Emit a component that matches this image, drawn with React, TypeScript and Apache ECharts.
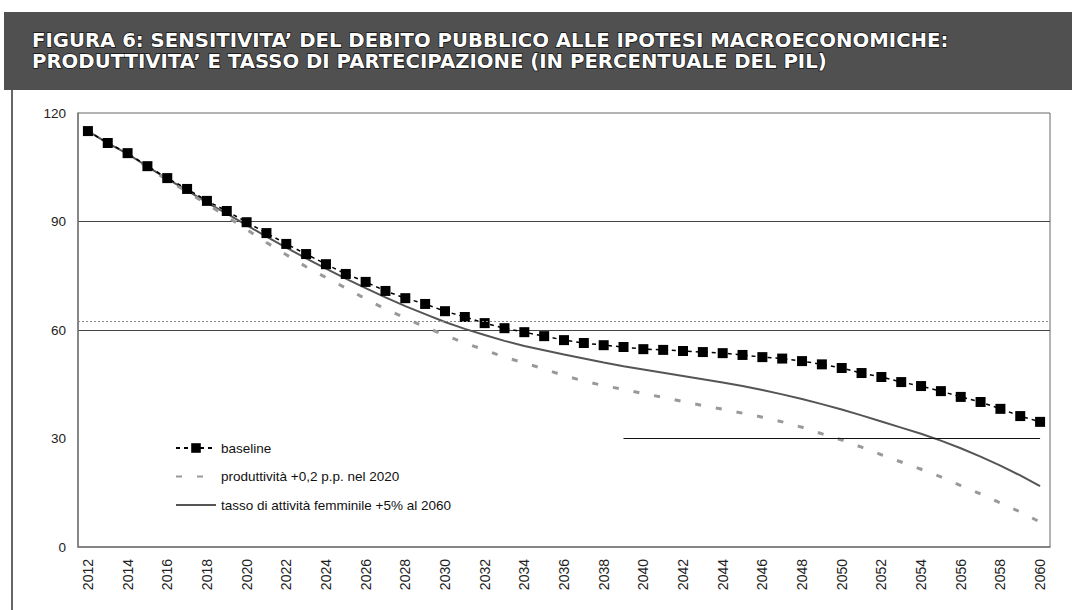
import React, { useEffect, useRef } from "react";
import * as echarts from "echarts";

const years = [
  "2012","2013","2014","2015","2016","2017","2018","2019","2020","2021",
  "2022","2023","2024","2025","2026","2027","2028","2029","2030","2031",
  "2032","2033","2034","2035","2036","2037","2038","2039","2040","2041",
  "2042","2043","2044","2045","2046","2047","2048","2049","2050","2051",
  "2052","2053","2054","2055","2056","2057","2058","2059","2060",
];

const baseline = [
  115.0, 111.7, 108.9, 105.3, 102.0, 99.0, 95.7, 92.9, 89.8, 86.8,
  83.8, 81.0, 78.2, 75.5, 73.3, 70.8, 68.8, 67.2, 65.2, 63.6,
  61.9, 60.5, 59.4, 58.3, 57.2, 56.4, 55.8, 55.3, 54.7, 54.5,
  54.2, 53.9, 53.6, 53.1, 52.5, 52.1, 51.4, 50.5, 49.5, 48.1,
  47.0, 45.6, 44.5, 43.1, 41.5, 40.1, 38.2, 36.2, 34.6,
];

const produttivita = [
  115.0, 111.6, 108.6, 105.0, 101.5, 98.2, 94.8, 91.4, 87.8, 84.2,
  80.8, 77.5, 74.5, 71.6, 68.6, 65.8, 63.3, 60.8, 58.6, 56.4,
  54.5, 52.5, 50.9, 49.2, 47.4, 45.9, 44.6, 43.6, 42.4, 41.4,
  40.2, 39.1, 38.1, 37.0, 35.9, 34.6, 33.1, 31.3, 29.6, 27.6,
  25.5, 23.5, 21.5, 19.4, 17.0, 14.7, 12.2, 9.7, 6.9,
];

const tasso = [
  115.0, 111.7, 108.7, 105.2, 101.8, 98.6, 95.2, 92.2, 89.0, 85.8,
  82.8, 79.8, 77.0, 74.2, 71.6, 69.0, 66.6, 64.4, 62.2, 60.3,
  58.6, 57.0, 55.6, 54.4, 53.2, 52.1, 51.0, 50.0, 49.1, 48.2,
  47.3, 46.4, 45.5, 44.5, 43.4, 42.2, 40.9, 39.5, 38.0, 36.4,
  34.7, 33.0, 31.3, 29.4, 27.3, 25.0, 22.5, 19.8, 16.8,
];

const seriesNames = [
  "baseline",
  "produttività +0,2 p.p. nel 2020",
  "tasso di attività femminile +5% al 2060",
];

const titleLines = [
  "FIGURA 6: SENSITIVITA’ DEL DEBITO PUBBLICO ALLE IPOTESI MACROECONOMICHE:",
  "PRODUTTIVITA’ E TASSO DI PARTECIPAZIONE (IN PERCENTUALE DEL PIL)",
];

export default function App() {
  const ref = useRef<HTMLDivElement>(null);

  useEffect(() => {
    document.body.style.margin = "0";
    if (!ref.current) return;
    const chart = echarts.init(ref.current, null, { renderer: "svg" });
    const font = "'Liberation Sans', Arial, sans-serif";
    chart.setOption({
      animation: false,
      backgroundColor: "#ffffff",
      grid: { left: 78, right: 22, top: 113, bottom: 63, containLabel: false,
        show: true, borderColor: "#666", borderWidth: 1 },
      graphic: [
        { type: "rect", shape: { x: 4, y: 12, width: 1068, height: 78 },
          style: { fill: "#505050" }, silent: true },
        { type: "text", x: 32, y: 30, style: { text: titleLines[0],
          font: "bold 19.7px 'DejaVu Sans'", fill: "#ffffff", stroke: "#111", lineWidth: 1.4 } },
        { type: "text", x: 32, y: 51, style: { text: titleLines[1],
          font: "bold 19.7px 'DejaVu Sans'", fill: "#ffffff", stroke: "#111", lineWidth: 1.4 } },
        { type: "line", shape: { x1: 12, y1: 90, x2: 12, y2: 610 },
          style: { stroke: "#333", lineWidth: 1.5 }, silent: true },
      ],
      legend: {
        left: 170, top: 436, orient: "vertical",
        itemWidth: 40, itemHeight: 12, itemGap: 14.5,
        data: [
          { name: seriesNames[0] },
          { name: seriesNames[1], itemStyle: { opacity: 0 } },
          { name: seriesNames[2], itemStyle: { opacity: 0 } },
        ],
        textStyle: { fontFamily: font, fontSize: 13.5, color: "#111" },
      },
      xAxis: {
        type: "category", data: years, boundaryGap: true,
        axisLine: { lineStyle: { color: "#777", width: 1.5 } },
        axisTick: { show: false },
        axisLabel: { rotate: 90, interval: 1, margin: 12, fontFamily: font, fontSize: 14, color: "#222" },
        splitLine: { show: false },
      },
      yAxis: {
        type: "value", min: 0, max: 120, interval: 30,
        axisLine: { show: true, lineStyle: { color: "#777", width: 1.5 } },
        axisTick: { show: false },
        axisLabel: { margin: 12, fontFamily: font, fontSize: 13.5, color: "#222" },
        splitLine: { show: true, lineStyle: {
          color: ["transparent", "transparent", "#444", "#444", "transparent"], width: 1 } },
      },
      series: [
        {
          name: seriesNames[2], type: "line", data: tasso, symbol: "none", z: 2,
          lineStyle: { color: "#555", width: 2 }, itemStyle: { color: "#555" },
          markLine: {
            silent: true, symbol: "none", label: { show: false },
            data: [
              [{ coord: [27.45, 30], lineStyle: { color: "#111", width: 1, type: "solid" } },
               { coord: [48, 30] }],
              { yAxis: 62.4, lineStyle: { color: "#888", width: 1, type: [2, 2] } },
            ],
          },
        },
        {
          name: seriesNames[1], type: "line", data: produttivita, symbol: "none", z: 3,
          lineStyle: { color: "#999", width: 3, type: [6, 15] }, itemStyle: { color: "#999" },
        },
        {
          name: seriesNames[0], type: "line", data: baseline, symbol: "rect", symbolSize: 10, z: 4,
          lineStyle: { color: "#000", width: 1.5, type: [4, 4] }, itemStyle: { color: "#000" },
        },
      ],
    });
    return () => chart.dispose();
  }, []);

  return <div ref={ref} style={{ width: 1072, height: 610 }} />;
}
